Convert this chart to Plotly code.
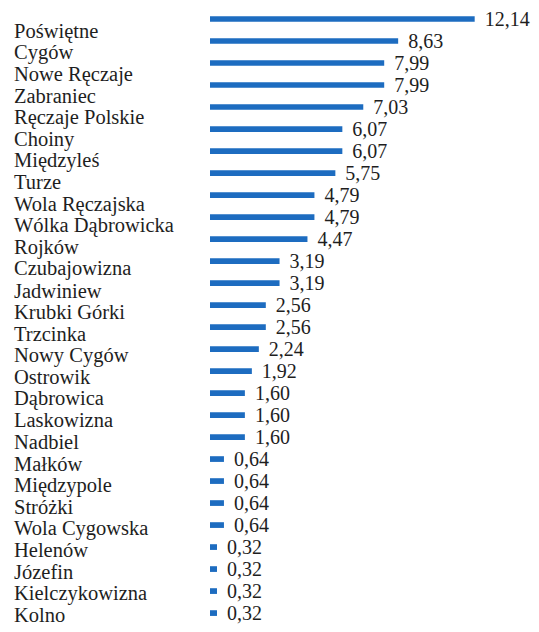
import plotly.graph_objects as go

places = ["Poświętne", "Cygów", "Nowe Ręczaje", "Zabraniec", "Ręczaje Polskie",
          "Choiny", "Międzyleś", "Turze", "Wola Ręczajska", "Wólka Dąbrowicka",
          "Rojków", "Czubajowizna", "Jadwiniew", "Krubki Górki", "Trzcinka",
          "Nowy Cygów", "Ostrowik", "Dąbrowica", "Laskowizna", "Nadbiel",
          "Małków", "Międzypole", "Stróżki", "Wola Cygowska", "Helenów",
          "Józefin", "Kielczykowizna", "Kolno"]
values = [12.14, 8.63, 7.99, 7.99, 7.03, 6.07, 6.07, 5.75, 4.79, 4.79,
          4.47, 3.19, 3.19, 2.56, 2.56, 2.24, 1.92, 1.60, 1.60, 1.60,
          0.64, 0.64, 0.64, 0.64, 0.32, 0.32, 0.32, 0.32]

labels = ["\u2002" + f"{v:.2f}".replace(".", ",") for v in values]
idx = list(range(len(places)))

fig = go.Figure(go.Bar(
    x=values, y=idx, orientation="h",
    marker=dict(color="#1d6cc0", line=dict(width=0)),
    width=0.26,
    text=labels, textposition="outside", cliponaxis=False,
    constraintext="none",
    textfont=dict(family="Liberation Serif", size=20, color="#1e1e1e"),
))

n = len(places)
for i, name in enumerate(places):
    fig.add_annotation(
        x=-0.602, xref="paper", y=i, yref="y",
        text=name, showarrow=False, xanchor="left", yanchor="middle",
        yshift=-(12 - 10 * i / (n - 1)),
        font=dict(family="Liberation Serif", size=20.5, color="#1e1e1e"),
    )

fig.update_layout(
    width=531, height=624,
    margin=dict(l=202, r=0, t=0, b=0),
    paper_bgcolor="white", plot_bgcolor="white",
    showlegend=False,
    xaxis=dict(range=[0, 15.09], visible=False),
    yaxis=dict(range=[27.86, -0.5], visible=False),
)

fig.write_html("out.html")
